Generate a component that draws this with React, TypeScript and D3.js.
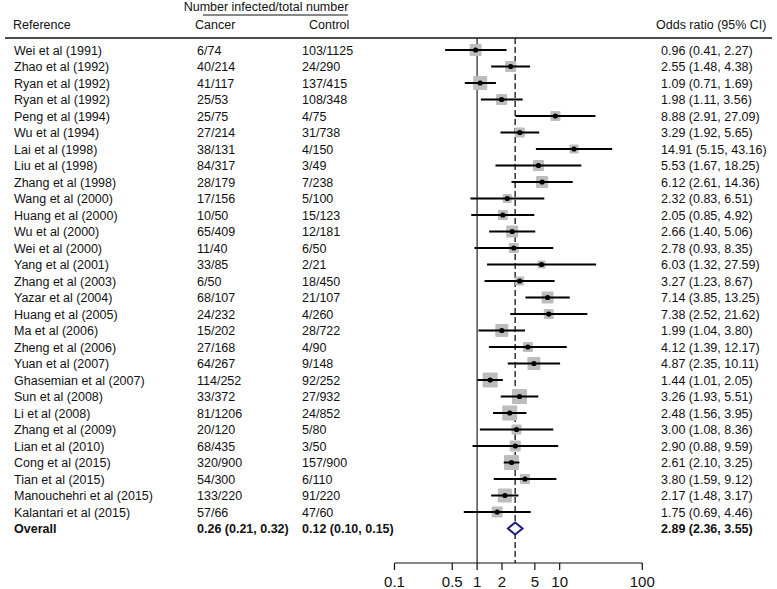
import React from "react";
import * as d3 from "d3";

const studies = [
  "Wei et al (1991)", "Zhao et al (1992)", "Ryan et al (1992)", "Ryan et al (1992)",
  "Peng et al (1994)", "Wu et al (1994)", "Lai et al (1998)", "Liu et al (1998)",
  "Zhang et al (1998)", "Wang et al (2000)", "Huang et al (2000)", "Wu et al (2000)",
  "Wei et al (2000)", "Yang et al (2001)", "Zhang et al (2003)", "Yazar et al (2004)",
  "Huang et al (2005)", "Ma et al (2006)", "Zheng et al (2006)", "Yuan et al (2007)",
  "Ghasemian et al (2007)", "Sun et al (2008)", "Li et al (2008)", "Zhang et al (2009)",
  "Lian et al (2010)", "Cong et al (2015)", "Tian et al (2015)", "Manouchehri et al (2015)",
  "Kalantari et al (2015)",
];
const cancer = [
  "6/74", "40/214", "41/117", "25/53", "25/75", "27/214", "38/131", "84/317", "28/179",
  "17/156", "10/50", "65/409", "11/40", "33/85", "6/50", "68/107", "24/232", "15/202",
  "27/168", "64/267", "114/252", "33/372", "81/1206", "20/120", "68/435", "320/900",
  "54/300", "133/220", "57/66",
];
const control = [
  "103/1125", "24/290", "137/415", "108/348", "4/75", "31/738", "4/150", "3/49", "7/238",
  "5/100", "15/123", "12/181", "6/50", "2/21", "18/450", "21/107", "4/260", "28/722",
  "4/90", "9/148", "92/252", "27/932", "24/852", "5/80", "3/50", "157/900", "6/110",
  "91/220", "47/60",
];
const orVal = [0.96, 2.55, 1.09, 1.98, 8.88, 3.29, 14.91, 5.53, 6.12, 2.32, 2.05, 2.66, 2.78, 6.03, 3.27, 7.14, 7.38, 1.99, 4.12, 4.87, 1.44, 3.26, 2.48, 3.0, 2.9, 2.61, 3.8, 2.17, 1.75];
const orLo = [0.41, 1.48, 0.71, 1.11, 2.91, 1.92, 5.15, 1.67, 2.61, 0.83, 0.85, 1.4, 0.93, 1.32, 1.23, 3.85, 2.52, 1.04, 1.39, 2.35, 1.01, 1.93, 1.56, 1.08, 0.88, 2.1, 1.59, 1.48, 0.69];
const orHi = [2.27, 4.38, 1.69, 3.56, 27.09, 5.65, 43.16, 18.25, 14.36, 6.51, 4.92, 5.06, 8.35, 27.59, 8.67, 13.25, 21.62, 3.8, 12.17, 10.11, 2.05, 5.51, 3.95, 8.36, 9.59, 3.25, 9.12, 3.17, 4.46];
const weights = [3.0, 2.75, 3.5, 2.75, 2.5, 2.5, 2.25, 2.75, 3.0, 2.25, 2.5, 3.0, 2.5, 2.0, 2.25, 3.0, 2.5, 3.25, 2.5, 3.25, 3.75, 3.75, 3.75, 2.5, 2.75, 3.75, 2.5, 3.5, 2.75];

const overall = { label: "Overall", cancer: "0.26 (0.21, 0.32)", control: "0.12 (0.10, 0.15)", or: 2.89, lo: 2.36, hi: 3.55 };
const axisTicks = [0.1, 0.5, 1, 2, 5, 10, 100];

const W = 777;
const H = 589;
const FONT = "'Liberation Sans', Arial, sans-serif";

const fmt = (v: number) => v.toFixed(2);

export default function App() {
  const x = d3.scaleLog().domain([0.1, 100]).range([394.5, 642.3]);
  const y = d3.scaleLinear().domain([0, 29]).range([50, 528.5]);
  const side = d3.scaleLinear().domain([0, 3.75]).range([0, 15]);
  const axisY = 563;
  const topLine = 38;
  const fs = 12.5;

  const colRef = 14;
  const colCancer = 197;
  const colControl = 302;
  const colOR = 661;

  const yo = y(29);
  const diamond = [
    [x(overall.lo), yo],
    [x(overall.or), yo - 6],
    [x(overall.hi), yo],
    [x(overall.or), yo + 6],
  ];

  return (
    <svg width={W} height={H} style={{ position: "absolute", left: 0, top: 0, background: "#fff" }} fontFamily={FONT}>
      <rect width={W} height={H} fill="#fff" />
      {/* header */}
      <text x={266} y={10.5} fontSize={fs} textAnchor="middle" fill="#111">Number infected/total number</text>
      <line x1={203} x2={348} y1={15} y2={15} stroke="#111" strokeWidth={1} />
      <text x={13} y={28.5} fontSize={fs} fill="#111">Reference</text>
      <text x={195} y={28.5} fontSize={fs} fill="#111">Cancer</text>
      <text x={309} y={28.5} fontSize={fs} fill="#111">Control</text>
      <text x={656} y={28.5} fontSize={fs} fill="#111">Odds ratio (95% CI)</text>
      <line x1={5} x2={772} y1={topLine} y2={topLine} stroke="#111" strokeWidth={1.5} />

      {/* reference lines */}
      <line x1={x(1)} x2={x(1)} y1={topLine} y2={axisY} stroke="#222" strokeWidth={1.2} />
      <line x1={x(overall.or)} x2={x(overall.or)} y1={topLine} y2={axisY} stroke="#222" strokeWidth={1.4} strokeDasharray="6,3" />

      {/* rows */}
      {studies.map((s, i) => {
        const yy = y(i);
        const sz = side(weights[i]);
        return (
          <g key={i}>
            <text x={colRef} y={yy} dy="0.36em" fontSize={fs} fill="#111">{s}</text>
            <text x={colCancer} y={yy} dy="0.36em" fontSize={fs} fill="#111">{cancer[i]}</text>
            <text x={colControl} y={yy} dy="0.36em" fontSize={fs} fill="#111">{control[i]}</text>
            <text x={colOR} y={yy} dy="0.36em" fontSize={fs} fill="#111">
              {`${fmt(orVal[i])} (${fmt(orLo[i])}, ${fmt(orHi[i])})`}
            </text>
            <rect x={x(orVal[i]) - sz / 2} y={yy - sz / 2} width={sz} height={sz} fill="#bdbdbd" rx={1} />
            <line x1={x(orLo[i])} x2={x(orHi[i])} y1={yy} y2={yy} stroke="#000" strokeWidth={2} />
            <circle cx={x(orVal[i])} cy={yy} r={2.6} fill="#000" />
          </g>
        );
      })}

      {/* overall */}
      <text x={colRef} y={yo} dy="0.36em" fontSize={fs} fontWeight="bold" fill="#111">{overall.label}</text>
      <text x={colCancer} y={yo} dy="0.36em" fontSize={fs} fontWeight="bold" fill="#111">{overall.cancer}</text>
      <text x={colControl} y={yo} dy="0.36em" fontSize={fs} fontWeight="bold" fill="#111">{overall.control}</text>
      <text x={colOR} y={yo} dy="0.36em" fontSize={fs} fontWeight="bold" fill="#111">
        {`${fmt(overall.or)} (${fmt(overall.lo)}, ${fmt(overall.hi)})`}
      </text>
      <polygon points={diamond.map((p) => p.join(",")).join(" ")} fill="#fff" stroke="#1c1c78" strokeWidth={2} />

      {/* axis */}
      <line x1={x(0.1)} x2={x(100)} y1={axisY} y2={axisY} stroke="#111" strokeWidth={1.2} />
      {axisTicks.map((t) => (
        <g key={t}>
          <line x1={x(t)} x2={x(t)} y1={axisY} y2={axisY + 7} stroke="#111" strokeWidth={1.2} />
          <text x={x(t)} y={587} fontSize={15} textAnchor="middle" fill="#111">{String(t)}</text>
        </g>
      ))}
    </svg>
  );
}
